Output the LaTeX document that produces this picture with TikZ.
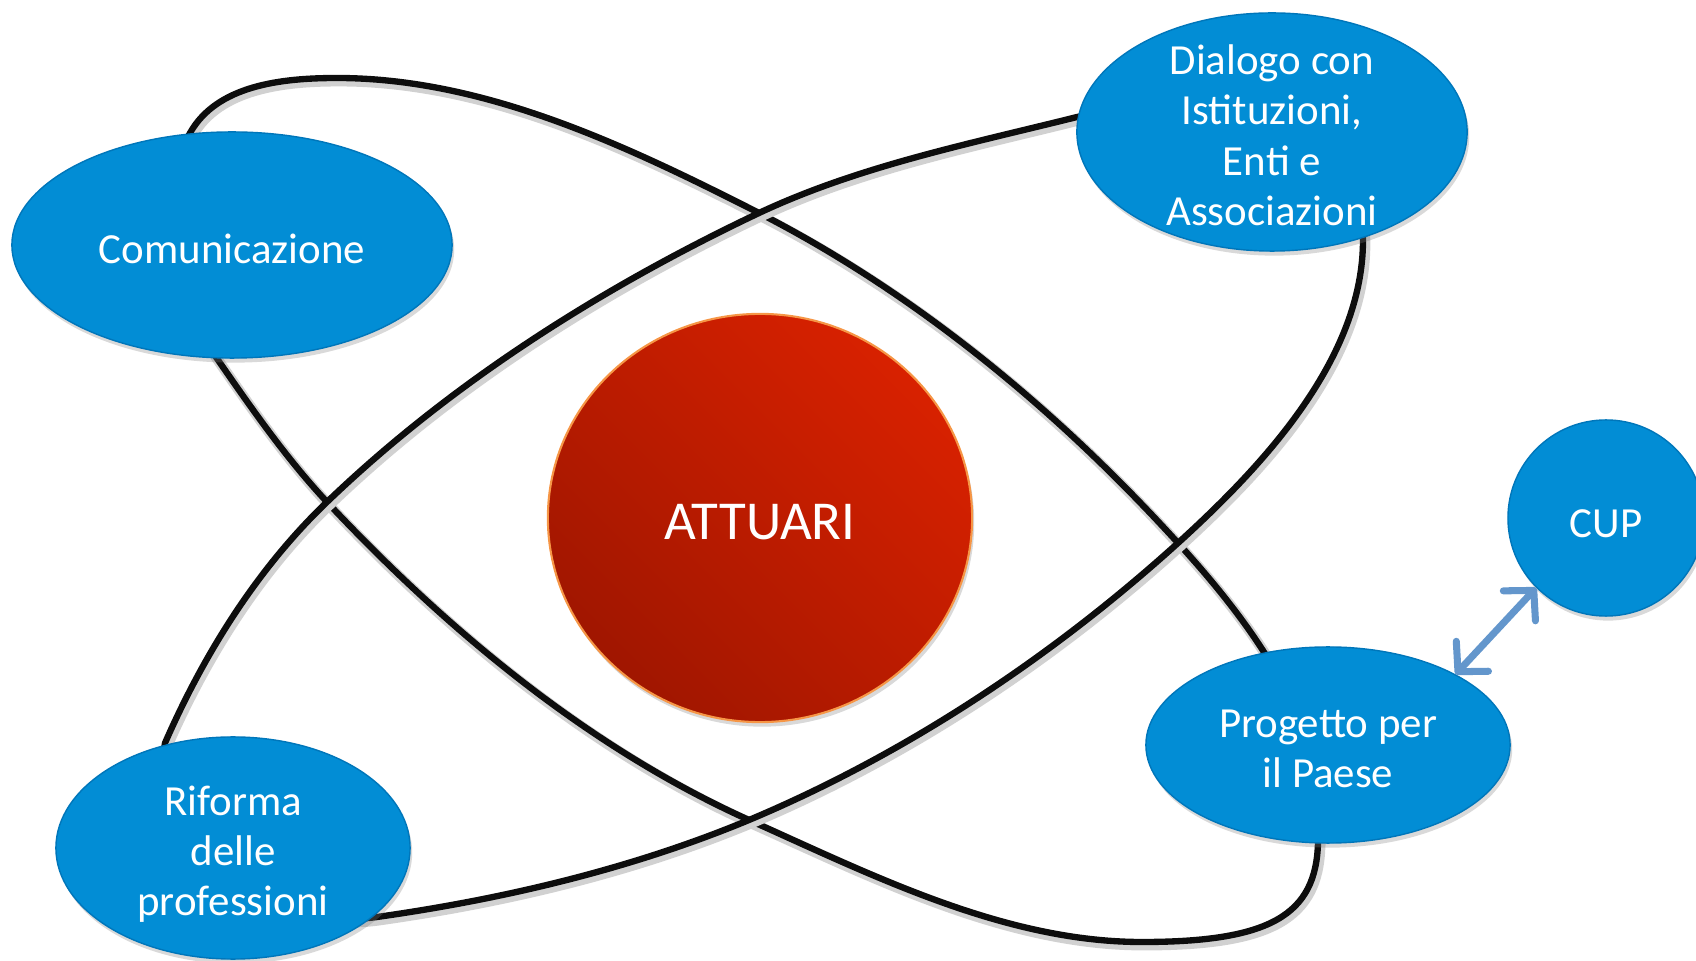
\documentclass[tikz,border=0pt]{standalone}
\usepackage{fontspec}
\setmainfont{Carlito}
\usetikzlibrary{%
	shapes.geometric,%
	shadows,%
	arrows.meta%
}
\definecolor{bubble-blue}{RGB}{2,141,213}
\definecolor{rim-blue}{RGB}{0,118,186}
\definecolor{core-red}{RGB}{216,33,0}
\definecolor{core-dark}{RGB}{160,22,0}
\definecolor{core-rim}{RGB}{246,150,70}
\definecolor{link-blue}{RGB}{99,150,204}

\begin{document}
\begin{tikzpicture}[x=0.01cm, y=-0.01cm,
		orbit/.style={line width=1.8pt, black!95, line join=round,
			preaction={draw=black!18, line width=3pt, transform canvas={shift={(0.6pt,-0.9pt)}}}},
		bubble/.style={ellipse, fill=bubble-blue, draw=rim-blue, line width=0.4pt, inner sep=0pt,
			drop shadow={opacity=0.3, shadow xshift=0.6pt, shadow yshift=-1.3pt}},
		caption/.style={text=white, align=center, yshift=-1.1pt,
			font=\fontsize{12.2}{14.3}\selectfont},
		core/.style={ellipse, top color=core-red, bottom color=core-dark, shading angle=-45,
			draw=core-rim, line width=0.6pt, inner sep=0pt,
			drop shadow={opacity=0.3, shadow xshift=0.6pt, shadow yshift=-1.3pt}},
		cuplink/.style={line width=2pt, link-blue, line cap=round,
			{Straight Barb[length=6pt,width=12.5pt,round]}-{Straight Barb[length=6pt,width=12.5pt,round]}}
	]
	\useasboundingbox (0,0) rectangle (1696,961);

	% orbit from Comunicazione down to Progetto per il Paese
	\draw[orbit] (337,78) .. controls (485,78) and (627,146) .. (759,213)
		.. controls (917,294) and (1058,411) .. (1178,543)
		.. controls (1252,624) and (1334,733) .. (1318,843)
		.. controls (1316,915) and (1270,942) .. (1142,942)
		.. controls (1005,942) and (874,876) .. (749,820)
		.. controls (589,748) and (447,630) .. (327,502)
		.. controls (286,458) and (252,409) .. (218,360)
		.. controls (161,278) and (140,220) .. (190,133)
		.. controls (217,85) and (282,78) .. cycle;

	% orbit from Riforma up to Dialogo
	\draw[orbit] (1077,117) .. controls (969,144) and (859,166) .. (759,213)
		.. controls (603,287) and (452,382) .. (327,502)
		.. controls (257,569) and (204,654) .. (165,743)
		.. controls (150,830) and (250,935) .. (377,917)
		.. controls (504,899) and (631,869) .. (749,820)
		.. controls (906,754) and (1052,657) .. (1178,543)
		.. controls (1265,464) and (1363,358) .. (1363,240)
		.. controls (1363,160) and (1224,88) .. cycle;

	% centre
	\node[core, minimum width=4.24cm, minimum height=4.08cm,
		label={[caption, yshift=-0.1pt, font=\fontsize{15.6}{18}\selectfont]center:ATTUARI}] (attuari) at (760,518) {};

	% satellites
	\node[bubble, minimum width=4.40cm, minimum height=2.26cm,
		label={[caption]center:Comunicazione}] (comm) at (232,245) {};
	\node[bubble, minimum width=3.90cm, minimum height=2.38cm,
		label={[caption, yshift=0.2pt]center:{Dialogo con\\Istituzioni,\\Enti e\\Associazioni}}] (dialogo) at (1272,132) {};
	\node[bubble, minimum width=3.54cm, minimum height=2.22cm,
		label={[caption, yshift=-0.7pt]center:{Riforma\\delle\\professioni}}] (riforma) at (233,848) {};
	\node[bubble, minimum width=3.64cm, minimum height=1.96cm,
		label={[caption]center:{Progetto per\\il Paese}}] (progetto) at (1328,745) {};
	\node[bubble, minimum size=1.96cm,
		label={[caption, yshift=-0.4pt]center:CUP}] (cup) at (1606,518) {};

	\draw[cuplink] (progetto.29) -- (cup.225);

\end{tikzpicture}
\end{document}
